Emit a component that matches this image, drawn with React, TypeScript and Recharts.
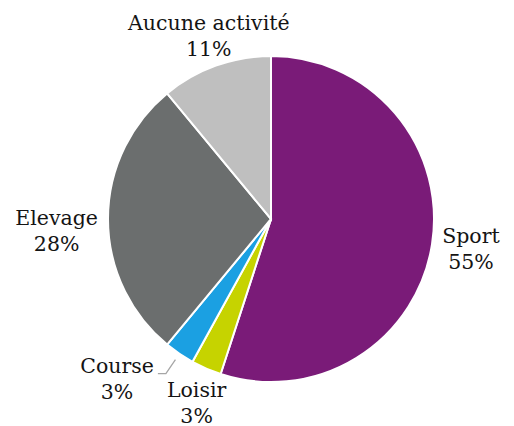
import { PieChart, Pie, Cell } from "recharts";

const activities = ["Sport", "Loisir", "Course", "Elevage", "Aucune activité"];
const shares = [55, 3, 3, 28, 11];
const sliceColors = ["#7a1b78", "#c6d300", "#1ba0e2", "#6b6e6e", "#bfbfbf"];

const data = activities.map((name, i) => ({ name, value: shares[i] }));

const FONT = '"DejaVu Serif", serif';
const FONT_SIZE = 20.5;
const LINE = 26;
const RAD = Math.PI / 180;

// small hand tweaks so the labels sit where the original puts them
const labelNudge: Record<string, [number, number]> = {
  Sport: [3, -1],
  Loisir: [3, 5],
  Elevage: [-2, 12],
  "Aucune activité": [5, 4],
};

let ctx: CanvasRenderingContext2D | null = null;
function textWidth(s: string) {
  if (!ctx) ctx = document.createElement("canvas").getContext("2d");
  if (!ctx) return s.length * FONT_SIZE * 0.55;
  ctx.font = `${FONT_SIZE}px ${FONT}`;
  return ctx.measureText(s).width;
}

function SliceLabel(props: any) {
  const { cx, cy, midAngle, outerRadius, index } = props;
  const name = activities[index];
  const pct = `${shares[index]}%`;
  const dx = Math.cos(-midAngle * RAD);
  const dy = Math.sin(-midAngle * RAD);
  const w = Math.max(textWidth(name), textWidth(pct));
  const h = LINE * 2;

  let x: number;
  let y: number;
  let leader: string | null = null;

  if (name === "Course") {
    // leader line: short radial piece then a horizontal tail
    const x1 = cx + (outerRadius + 7) * dx;
    const y1 = cy + (outerRadius + 7) * dy;
    const x2 = cx + (outerRadius + 24) * dx;
    const y2 = cy + (outerRadius + 24) * dy;
    const x3 = x2 - 8;
    leader = `M${x1},${y1}L${x2},${y2}L${x3},${y2}`;
    x = x3 - 4 - w / 2;
    y = y2 + 5;
  } else {
    const dist =
      outerRadius + 8 + Math.max((Math.abs(dx) * w) / 2, (Math.abs(dy) * h) / 2);
    const n = labelNudge[name] || [0, 0];
    x = cx + dist * dx + n[0];
    y = cy + dist * dy + n[1];
  }

  return (
    <g>
      {leader && <path d={leader} stroke="#a6a6a6" strokeWidth={1.3} fill="none" />}
      <text
        x={x}
        y={y - 6}
        textAnchor="middle"
        fill="#141414"
        fontFamily={FONT}
        fontSize={FONT_SIZE}
      >
        {name}
      </text>
      <text
        x={x}
        y={y - 6 + LINE}
        textAnchor="middle"
        fill="#141414"
        fontFamily={FONT}
        fontSize={FONT_SIZE}
      >
        {pct}
      </text>
    </g>
  );
}

export default function App() {
  return (
    <div style={{ position: "absolute", left: 0, top: 0, background: "#fff" }}>
      <PieChart
        width={514}
        height={426}
        margin={{ top: 0, right: 0, bottom: 0, left: 0 }}
      >
        <Pie
          data={data}
          dataKey="value"
          nameKey="name"
          cx={271}
          cy={219}
          outerRadius={163}
          startAngle={90}
          endAngle={-270}
          stroke="#ffffff"
          strokeWidth={2}
          label={SliceLabel}
          labelLine={false}
          isAnimationActive={false}
        >
          {data.map((d, i) => (
            <Cell key={d.name} fill={sliceColors[i]} />
          ))}
        </Pie>
      </PieChart>
    </div>
  );
}
